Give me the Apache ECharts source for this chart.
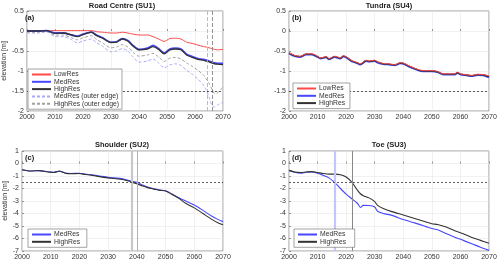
<!DOCTYPE html>
<html><head><meta charset="utf-8">
<script src="https://cdn.jsdelivr.net/npm/echarts@6/dist/echarts.min.js"></script>
<style>html,body{margin:0;padding:0;background:#fff}#c{width:500px;height:263px}</style>
</head><body><div id="c"></div>
<script>
// ---- Panel (a) Road Centre (SU1)
const yearsA = [2000,2004,2007,2010,2013,2016,2018,2020,2023,2025,2027,2030,2032,2034,2036,2038,2040,2043,2045,2047,2049,2051,2053,2055,2057,2059,2061,2063,2064,2065,2066,2067,2068,2070];
const lowA  = [0,0,0.01,0.01,0.01,0.01,0.01,0.01,0.01,-0.02,-0.03,-0.05,-0.05,-0.03,-0.05,-0.08,-0.1,-0.1,-0.14,-0.2,-0.26,-0.19,-0.18,-0.2,-0.28,-0.31,-0.35,-0.39,-0.4,-0.42,-0.44,-0.46,-0.47,-0.46];
const medA  = [0,0,0.01,-0.05,-0.05,-0.1,-0.13,-0.08,-0.03,-0.11,-0.17,-0.28,-0.27,-0.19,-0.24,-0.37,-0.46,-0.43,-0.36,-0.44,-0.55,-0.45,-0.43,-0.45,-0.58,-0.64,-0.69,-0.71,-0.73,-0.75,-0.78,-0.8,-0.81,-0.81];
const highA = [0,0,0.01,-0.06,-0.05,-0.1,-0.14,-0.09,-0.03,-0.12,-0.18,-0.29,-0.28,-0.2,-0.25,-0.38,-0.47,-0.45,-0.39,-0.46,-0.57,-0.47,-0.45,-0.47,-0.6,-0.66,-0.71,-0.73,-0.75,-0.77,-0.8,-0.82,-0.83,-0.84];
const medOuterA  = [-0.05,-0.05,-0.02,-0.14,-0.14,-0.22,-0.3,-0.25,-0.2,-0.3,-0.38,-0.52,-0.5,-0.44,-0.5,-0.66,-0.78,-0.75,-0.7,-0.8,-0.92,-0.85,-0.82,-0.86,-0.98,-1.08,-1.2,-1.35,-1.47,-1.65,-1.85,-1.9,-1.85,-1.78];
const highOuterA = [-0.03,-0.03,-0.01,-0.1,-0.1,-0.17,-0.22,-0.17,-0.12,-0.22,-0.3,-0.42,-0.4,-0.34,-0.4,-0.54,-0.63,-0.6,-0.56,-0.65,-0.76,-0.68,-0.66,-0.7,-0.8,-0.88,-0.98,-1.1,-1.2,-1.3,-1.45,-1.56,-1.55,-1.4];
const vlinesA = [2064.3, 2066.3];

// ---- Panel (b) Tundra (SU4)
const yearsB = [2000,2002,2004,2006,2008,2010,2011,2013,2014,2016,2017,2018,2019,2020,2022,2024,2025,2027,2028,2030,2031,2033,2035,2037,2039,2040,2042,2044,2046,2048,2050,2052,2054,2056,2058,2059,2060,2062,2064,2066,2068,2070];
const highB = [-0.55,-0.62,-0.64,-0.58,-0.58,-0.64,-0.68,-0.65,-0.7,-0.64,-0.66,-0.68,-0.63,-0.65,-0.75,-0.8,-0.83,-0.74,-0.76,-0.74,-0.78,-0.82,-0.83,-0.85,-0.8,-0.81,-0.88,-0.94,-0.99,-1.0,-1.0,-1.02,-1.08,-1.08,-1.08,-1.04,-1.08,-1.1,-1.12,-1.09,-1.1,-1.14];
const lowB  = [-0.54,-0.61,-0.63,-0.57,-0.57,-0.63,-0.67,-0.64,-0.69,-0.63,-0.65,-0.67,-0.62,-0.64,-0.74,-0.79,-0.82,-0.73,-0.75,-0.73,-0.77,-0.81,-0.82,-0.84,-0.79,-0.8,-0.87,-0.93,-0.98,-0.99,-0.99,-1.01,-1.07,-1.07,-1.07,-1.03,-1.07,-1.09,-1.11,-1.08,-1.09,-1.12];
const medB  = [-0.56,-0.63,-0.65,-0.59,-0.59,-0.65,-0.69,-0.66,-0.71,-0.65,-0.67,-0.69,-0.64,-0.66,-0.76,-0.81,-0.84,-0.75,-0.77,-0.75,-0.79,-0.83,-0.84,-0.86,-0.81,-0.82,-0.89,-0.95,-1.0,-1.01,-1.01,-1.03,-1.09,-1.09,-1.09,-1.05,-1.09,-1.11,-1.13,-1.1,-1.11,-1.16];

// ---- Panel (c) Shoulder (SU2)
const yearsC = [2000,2003,2006,2009,2011,2013,2015,2017,2020,2022,2024,2027,2030,2032,2035,2038,2040,2042,2044,2046,2048,2050,2052,2055,2057,2060,2063,2066,2068,2070];
const medC  = [-0.5,-0.6,-0.57,-0.66,-0.7,-0.6,-0.76,-0.8,-0.78,-0.85,-0.9,-1.0,-1.1,-1.15,-1.22,-1.4,-1.5,-1.72,-1.9,-2.03,-2.12,-2.18,-2.4,-2.78,-3.0,-3.32,-3.75,-4.2,-4.45,-4.65];
const highC = [-0.5,-0.6,-0.57,-0.68,-0.72,-0.62,-0.78,-0.82,-0.8,-0.88,-0.93,-1.05,-1.15,-1.2,-1.28,-1.47,-1.62,-1.8,-1.95,-2.05,-2.15,-2.2,-2.45,-2.85,-3.18,-3.55,-4.0,-4.45,-4.72,-4.9];
const vlinesC = [2038.2, 2040.2];

// ---- Panel (d) Toe (SU3)
const yearsD = [2000,2002,2004,2006,2008,2010,2012,2014,2016,2018,2020,2022,2024,2025,2026,2028,2030,2031,2033,2036,2040,2044,2048,2050,2052,2055,2058,2061,2064,2067,2070];
const medD  = [-0.55,-0.7,-0.78,-0.7,-0.68,-0.78,-0.95,-1.15,-1.52,-2.0,-2.45,-2.82,-3.2,-3.52,-3.35,-3.36,-3.48,-3.82,-4.0,-4.15,-4.48,-4.75,-5.05,-5.2,-5.3,-5.6,-5.9,-6.15,-6.42,-6.7,-6.95];
const highD = [-0.55,-0.68,-0.72,-0.68,-0.65,-0.72,-0.8,-0.85,-0.85,-0.9,-1.08,-1.5,-2.15,-2.42,-2.58,-2.75,-3.05,-3.35,-3.6,-3.85,-4.12,-4.4,-4.68,-4.82,-4.88,-5.08,-5.38,-5.62,-5.92,-6.15,-6.38];
const vlinesD = [2016.1, 2022.1];

const threshold = -1.5;

const RED='#ff4a4a', BLUE='#4747ff', BLACK='#333333', LBLUE='#a9a9ff', LGRAY='#a0a0a0';
const FONT = 'Liberation Sans, Arial, sans-serif';
const pair = (xs, ys) => xs.map((x,i)=>[x, ys[i]]);

const grids = [
  {left:22, top:11, width:201, height:100},
  {left:289, top:11, width:200, height:100},
  {left:22, top:151, width:201, height:100},
  {left:289, top:151, width:200, height:100}
].map(g=>Object.assign(g,{show:true, borderColor:'#555', borderWidth:0.6, backgroundColor:'#fff'}));

function xAx(i){
  return {type:'value', gridIndex:i, min:2000, max:2070, interval:10,
    axisLine:{show:false}, axisTick:{inside:true, length:2, lineStyle:{color:'#555', width:0.6}},
    axisLabel:{fontSize:7, color:'#333', margin:3, fontFamily:FONT, formatter:v=>String(v)},
    splitLine:{show:true, lineStyle:{color:'#e8e8e8', width:0.6}}};
}
function yAx(i, min, max, interval, name){
  return {type:'value', gridIndex:i, min:min, max:max, interval:interval,
    name:name||'', nameLocation:'middle', nameGap:13, nameTextStyle:{fontSize:7, color:'#333', fontFamily:FONT},
    axisLine:{show:false}, axisTick:{inside:true, length:2, lineStyle:{color:'#555', width:0.6}},
    axisLabel:{fontSize:7, color:'#333', margin:3, fontFamily:FONT, formatter:v=>String(v)},
    splitLine:{show:true, lineStyle:{color:'#e8e8e8', width:0.6}}};
}
function line(name, i, xs, ys, color, width, dashed, z, extra){
  return Object.assign({type:'line', name:name, xAxisIndex:i, yAxisIndex:i, data:pair(xs,ys),
    symbol:'none', showSymbol:false, smooth:0.25, z:z||2, animation:false,
    lineStyle:{color:color, width:width, type: dashed?[3,2]:'solid'},
    itemStyle:{color:color}}, extra||{});
}
function mlines(xs, colors, widths, dashes){
  const d = xs.map((x,k)=>({xAxis:x, lineStyle:{color:colors[k], width:widths[k], type:dashes[k]?[4,2]:'solid'}}));
  d.push({yAxis:threshold, lineStyle:{color:'#333', width:0.8, type:[2,2]}});
  return {markLine:{silent:true, symbol:'none', label:{show:false}, animation:false, data:d}};
}
function hline(){
  return {markLine:{silent:true, symbol:'none', label:{show:false}, animation:false,
    data:[{yAxis:threshold, lineStyle:{color:'#333', width:0.8, type:[2,2]}}]}};
}

const ttl = (text, left, top, align) => ({text:text, left:left, top:top, textAlign:align||'center',
  textStyle:{fontSize:7.5, fontWeight:'bold', color:'#222', fontFamily:FONT}, padding:0});

function lg(data, left, top){
  return {data:data, left:left, top:top, orient:'vertical', itemWidth:19, itemHeight:6, itemGap:0.3,
    padding:[2,3,2,3], borderColor:'#666', borderWidth:0.6, backgroundColor:'#fff',
    itemStyle:{opacity:0},
    textStyle:{fontSize:6.8, color:'#333', fontFamily:FONT, padding:[0,0,0,-2]}, selectedMode:false, z:20};
}

const option = {
  animation:false,
  title:[
    ttl('Road Centre (SU1)', 122, 2), ttl('Tundra (SU4)', 389, 2),
    ttl('Shoulder (SU2)', 122, 141), ttl('Toe (SU3)', 389, 141),
    ttl('(a)', 25, 14, 'left'), ttl('(b)', 292, 14, 'left'),
    ttl('(c)', 25, 154, 'left'), ttl('(d)', 292, 154, 'left')
  ],
  grid: grids,
  xAxis:[xAx(0),xAx(1),xAx(2),xAx(3)],
  yAxis:[yAx(0,-2,0.5,0.5,'elevation [m]'), yAx(1,-2,0.5,0.5), yAx(2,-7,1,1,'elevation [m]'), yAx(3,-7,1,1)],
  legend:[
    lg(['LowRes','MedRes','HighRes','MedRes (outer edge)','HighRes (outer edge)'], 28, 69),
    lg([{name:'LowRes'},{name:'MedRes '},{name:'HighRes '}], 293, 83),
    lg(['MedRes  ','HighRes  '], 28, 229),
    lg(['MedRes   ','HighRes   '], 294, 229)
  ],
  series:[
    line('MedRes (outer edge)',0,yearsA,medOuterA,LBLUE,1,true,2, mlines(vlinesA,[LBLUE,'#888'],[0.9,0.9],[true,true])),
    line('HighRes (outer edge)',0,yearsA,highOuterA,LGRAY,1,true,2),
    line('LowRes',0,yearsA,lowA,RED,1,false,3),
    line('MedRes',0,yearsA,medA,BLUE,1.8,false,3),
    line('HighRes',0,yearsA,highA,BLACK,1.3,false,4),

    line('MedRes ',1,yearsB,medB,BLUE,1.8,false,3, hline()),
    line('HighRes ',1,yearsB,highB,BLACK,1.3,false,4),
    line('LowRes',1,yearsB,lowB,RED,1,false,5),

    line('MedRes  ',2,yearsC,medC,BLUE,1.1,false,3, mlines(vlinesC,['#c8c8c8','#a8a8ff'],[2.2,1],[false,false])),
    line('HighRes  ',2,yearsC,highC,BLACK,1.1,false,4),

    line('MedRes   ',3,yearsD,medD,BLUE,1.1,false,3, mlines(vlinesD,['#c4c4ff','#888'],[2.2,1],[false,false])),
    line('HighRes   ',3,yearsD,highD,BLACK,1.1,false,4)
  ]
};
const chart = echarts.init(document.getElementById('c'), null, {renderer:'canvas'});
chart.setOption(option);
</script></body></html>
